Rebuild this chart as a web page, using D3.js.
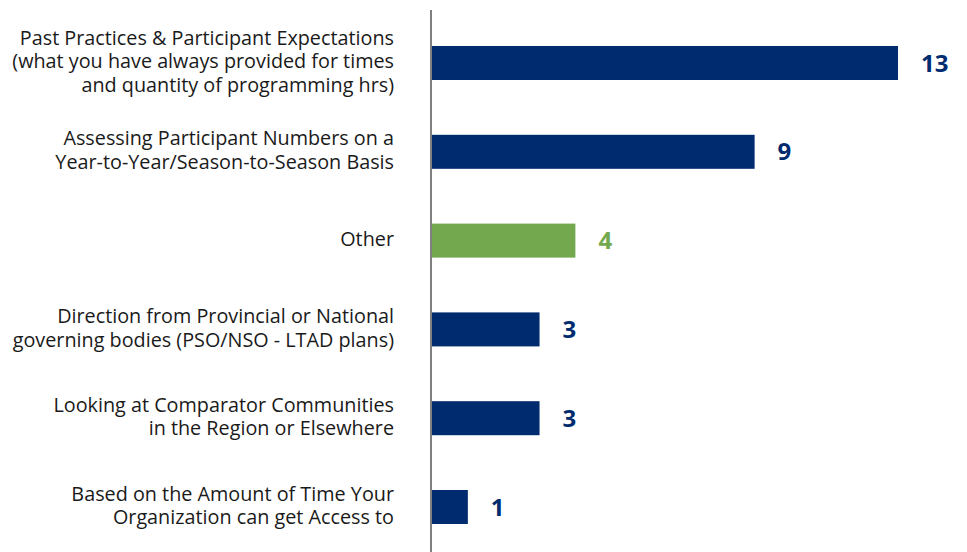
<!DOCTYPE html>
<html>
<head>
<meta charset="utf-8">
<script src="https://cdn.jsdelivr.net/npm/d3@7/dist/d3.min.js"></script>
<style>
  html, body { margin: 0; padding: 0; background: #fff; }
  svg { display: block; }
</style>
</head>
<body>
<svg id="chart" width="967" height="552"></svg>
<script>
// Category labels, each split into its display lines
const categories = [
  ["Past Practices & Participant Expectations", "(what you have always provided for times", "and quantity of programming hrs)"],
  ["Assessing Participant Numbers on a", "Year-to-Year/Season-to-Season Basis"],
  ["Other"],
  ["Direction from Provincial or National", "governing bodies (PSO/NSO - LTAD plans)"],
  ["Looking at Comparator Communities", "in the Region or Elsewhere"],
  ["Based on the Amount of Time Your", "Organization can get Access to"]
];
const values = [13, 9, 4, 3, 3, 1];
const highlight = [false, false, true, false, false, false];

const navy = "#002b6f";
const green = "#74a84f";

const svg = d3.select("#chart");
const axisX = 431;

const x = d3.scaleLinear().domain([0, 13]).range([axisX + 1, axisX + 1 + 466]);
const y = d3.scaleBand().domain(d3.range(values.length)).range([18.6, 551.4]).paddingInner(0.617).paddingOuter(0.3085);

const rows = svg.selectAll("g.row").data(values).join("g").attr("class", "row");

rows.append("rect")
  .attr("x", x(0))
  .attr("y", (d, i) => y(i))
  .attr("width", d => x(d) - x(0))
  .attr("height", y.bandwidth())
  .attr("fill", (d, i) => highlight[i] ? green : navy);

rows.append("text")
  .attr("x", d => x(d) + 23)
  .attr("y", (d, i) => y(i) + y.bandwidth() / 2)
  .attr("dy", "0.36em")
  .attr("font-family", "'Open Sans', sans-serif")
  .attr("font-weight", 700)
  .attr("font-size", 24)
  .attr("fill", (d, i) => highlight[i] ? green : navy)
  .text(d => d);

const lineH = 23.5;
rows.append("text")
  .attr("text-anchor", "end")
  .attr("font-family", "'Open Sans', sans-serif")
  .attr("font-size", 19.8)
  .attr("fill", "#1a1a1a")
  .each(function(d, i) {
    const lines = categories[i];
    const cy = y(i) + y.bandwidth() / 2;
    const top = cy - (lines.length - 1) * lineH / 2 - 1.5;
    d3.select(this).selectAll("tspan").data(lines).join("tspan")
      .attr("x", 394)
      .attr("y", (l, j) => top + j * lineH)
      .attr("dy", "0.35em")
      .text(l => l);
  });

// Vertical category axis line
svg.append("line")
  .attr("x1", axisX).attr("x2", axisX)
  .attr("y1", 10).attr("y2", 552)
  .attr("stroke", "#7f7f7f")
  .attr("stroke-width", 2);
</script>
</body>
</html>
